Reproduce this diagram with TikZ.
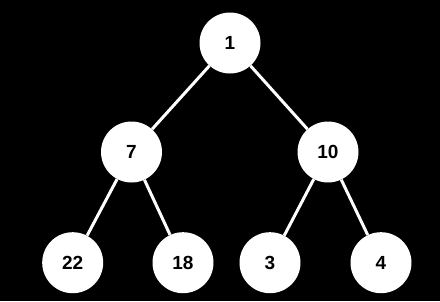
\documentclass[tikz,border=0pt]{standalone}
\usepackage{fontspec}
\setmainfont{Liberation Sans}
\begin{document}
\begin{tikzpicture}[x=1pt,y=-1pt,
  treenode/.style={circle,fill=white,draw=none,minimum size=61pt,inner sep=0pt,font=\fontsize{19}{22}\selectfont\bfseries,text=black},
  edge/.style={draw=white,line width=3pt}]
\fill[black] (0,0) rectangle (440,301);
\useasboundingbox (0,0) rectangle (440,301);
\node[treenode] (n1) at (230,43) {1};
\node[treenode] (n7) at (131.5,152) {7};
\node[treenode] (n10) at (328,152) {10};
\node[treenode] (n22) at (72.7,262.7) {22};
\node[treenode] (n18) at (183,262.7) {18};
\node[treenode] (n3) at (270,262.7) {3};
\node[treenode] (n4) at (381,262.7) {4};
\draw[edge] (n1) -- (n7);
\draw[edge] (n1) -- (n10);
\draw[edge] (n7) -- (n22);
\draw[edge] (n7) -- (n18);
\draw[edge] (n10) -- (n3);
\draw[edge] (n10) -- (n4);
\end{tikzpicture}
\end{document}
